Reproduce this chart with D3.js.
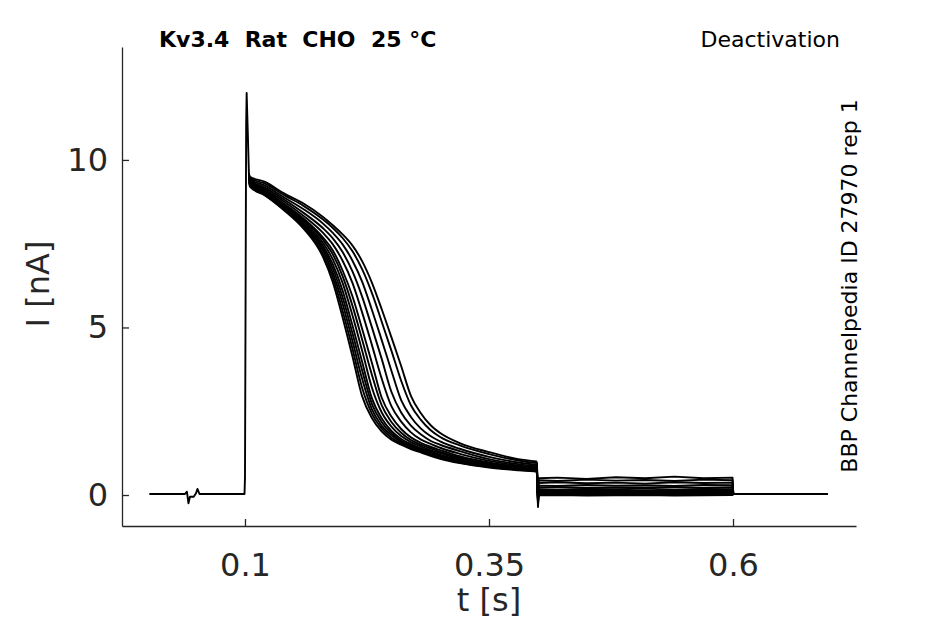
<!DOCTYPE html>
<html><head><meta charset="utf-8">
<script src="https://cdn.jsdelivr.net/npm/d3@7"></script>
<style>
body{margin:0;background:#fff}
text{font-family:"DejaVu Sans",sans-serif}
</style>
</head><body>
<svg id="c" width="945" height="624"></svg>
<script>
// ---------- data ----------
const xTicks = [0.1, 0.35, 0.6];
const yTicks = [0, 5, 10];

// shared pre-pulse baseline and capacitive spike (all sweeps overlap here)
const baseT = [0.002, 0.0385, 0.0405, 0.0421, 0.0436, 0.0475, 0.0498, 0.0513, 0.0534, 0.0995, 0.1000, 0.1012, 0.1017, 0.1028, 0.1040];
const baseI = [0.03, 0.03, 0.10, -0.25, -0.05, -0.05, 0.05, 0.18, 0.03, 0.03, 0.5, 11.0, 12.0, 10.9, 9.6];

// inactivating phase during the pulse, one row per sweep
const decayT = [0.105, 0.12, 0.14, 0.16, 0.18, 0.19, 0.20, 0.21, 0.22, 0.23, 0.24, 0.25, 0.26, 0.27, 0.28, 0.29, 0.30, 0.32, 0.35, 0.38, 0.399];
const decay1  = [9.20, 8.95, 8.50, 7.95, 7.10, 6.35, 5.30, 4.15, 2.95, 2.30, 1.90, 1.65, 1.50, 1.37, 1.27, 1.17, 1.08, 0.95, 0.82, 0.74, 0.70];
const decay2  = [9.22, 8.96, 8.52, 7.99, 7.19, 6.49, 5.50, 4.38, 3.20, 2.43, 1.99, 1.71, 1.54, 1.40, 1.30, 1.20, 1.11, 0.97, 0.84, 0.75, 0.71];
const decay3  = [9.25, 8.98, 8.55, 8.02, 7.29, 6.62, 5.71, 4.61, 3.47, 2.56, 2.07, 1.78, 1.58, 1.44, 1.33, 1.23, 1.14, 0.99, 0.85, 0.76, 0.72];
const decay4  = [9.25, 9.00, 8.58, 8.06, 7.36, 6.76, 5.90, 4.84, 3.72, 2.72, 2.18, 1.84, 1.62, 1.48, 1.36, 1.27, 1.17, 1.02, 0.87, 0.78, 0.73];
const decay5  = [9.28, 9.02, 8.60, 8.10, 7.43, 6.88, 6.10, 5.07, 3.98, 2.89, 2.29, 1.91, 1.67, 1.52, 1.40, 1.30, 1.20, 1.05, 0.89, 0.79, 0.74];
const decay6  = [9.30, 9.04, 8.63, 8.15, 7.52, 7.03, 6.33, 5.37, 4.31, 3.21, 2.47, 2.04, 1.76, 1.58, 1.45, 1.34, 1.25, 1.08, 0.91, 0.80, 0.76];
const decay7  = [9.32, 9.07, 8.66, 8.20, 7.61, 7.18, 6.53, 5.66, 4.64, 3.59, 2.68, 2.18, 1.86, 1.64, 1.50, 1.39, 1.29, 1.12, 0.94, 0.82, 0.77];
const decay8  = [9.35, 9.10, 8.69, 8.25, 7.68, 7.30, 6.70, 5.94, 4.96, 3.95, 2.91, 2.34, 1.97, 1.72, 1.56, 1.44, 1.34, 1.16, 0.97, 0.85, 0.79];
const decay9  = [9.38, 9.13, 8.76, 8.33, 7.82, 7.48, 6.99, 6.34, 5.45, 4.48, 3.48, 2.65, 2.19, 1.87, 1.66, 1.53, 1.41, 1.23, 1.02, 0.88, 0.82];
const decay10 = [9.40, 9.18, 8.82, 8.42, 7.96, 7.66, 7.25, 6.68, 5.92, 5.01, 4.07, 3.08, 2.46, 2.07, 1.81, 1.62, 1.50, 1.31, 1.07, 0.92, 0.86];
const decay11 = [9.42, 9.24, 8.88, 8.53, 8.10, 7.82, 7.48, 7.00, 6.37, 5.53, 4.63, 3.71, 2.83, 2.33, 1.99, 1.76, 1.60, 1.38, 1.14, 0.97, 0.90];
const decay12 = [9.45, 9.30, 8.95, 8.63, 8.22, 7.97, 7.67, 7.28, 6.74, 6.03, 5.18, 4.31, 3.41, 2.68, 2.25, 1.94, 1.73, 1.48, 1.22, 1.03, 0.95];
const decay13 = [9.50, 9.35, 9.00, 8.70, 8.30, 8.05, 7.78, 7.45, 6.98, 6.34, 5.55, 4.71, 3.85, 2.96, 2.45, 2.09, 1.85, 1.55, 1.28, 1.07, 1.00];

// transient at the step to the tail potential
const stepT = 0.4002;
const stepI = [-0.36, -0.30, -0.25, -0.20, -0.18, -0.15, -0.12, -0.10, -0.08, -0.05, -0.03, 0.00, 0.05];

// tail currents 0.4 - 0.6 s
const tailT = [0.4008, 0.42, 0.45, 0.48, 0.51, 0.54, 0.57, 0.5995];
const tail1  = [-0.01, 0.00, -0.02, -0.01, 0.00, -0.02, -0.01, 0.00];
const tail2  = [0.01, 0.02, 0.00, 0.01, 0.02, 0.00, 0.02, 0.01];
const tail3  = [0.03, 0.04, 0.02, 0.04, 0.03, 0.04, 0.02, 0.03];
const tail4  = [0.05, 0.06, 0.05, 0.04, 0.06, 0.05, 0.06, 0.05];
const tail5  = [0.07, 0.08, 0.06, 0.08, 0.07, 0.09, 0.07, 0.08];
const tail6  = [0.10, 0.09, 0.11, 0.10, 0.12, 0.10, 0.11, 0.10];
const tail7  = [0.13, 0.14, 0.12, 0.14, 0.13, 0.15, 0.13, 0.14];
const tail8  = [0.17, 0.16, 0.18, 0.17, 0.19, 0.16, 0.18, 0.17];
const tail9  = [0.22, 0.24, 0.21, 0.23, 0.22, 0.24, 0.21, 0.23];
const tail10 = [0.28, 0.27, 0.30, 0.28, 0.29, 0.27, 0.30, 0.29];
const tail11 = [0.36, 0.38, 0.35, 0.37, 0.34, 0.38, 0.36, 0.37];
const tail12 = [0.44, 0.42, 0.46, 0.43, 0.45, 0.42, 0.46, 0.44];
const tail13 = [0.50, 0.52, 0.48, 0.53, 0.50, 0.55, 0.50, 0.52];

// after the tail step, back to holding
const endT = [0.6003, 0.697];
const endI = [0.03, 0.03];

const decays = [decay1, decay2, decay3, decay4, decay5, decay6, decay7, decay8, decay9, decay10, decay11, decay12, decay13];
const tails = [tail1, tail2, tail3, tail4, tail5, tail6, tail7, tail8, tail9, tail10, tail11, tail12, tail13];

// ---------- chart ----------
const svg = d3.select("#c");
const x = d3.scaleLinear().domain([-0.026, 0.726]).range([122, 856]);
const y = d3.scaleLinear().domain([-0.925, 13.37]).range([526, 47]);
const axisColor = "#262626";

const lineLin = d3.line().x(d => x(d[0])).y(d => y(d[1]));
const lineSmooth = d3.line().x(d => x(d[0])).y(d => y(d[1])).curve(d3.curveMonotoneX);

const g = svg.append("g").attr("fill", "none").attr("stroke", "#000").attr("stroke-width", 1.9).attr("stroke-linejoin", "round");

decays.forEach((dv, k) => {
  const lastBase = [baseT[baseT.length - 1], baseI[baseI.length - 1]];
  const dPts = [lastBase].concat(decayT.map((t, i) => [t, dv[i]]));
  g.append("path").attr("d", lineSmooth(dPts));
  const tv = tails[k];
  const tPts = [[decayT[decayT.length - 1], dv[dv.length - 1]], [stepT, stepI[k]]]
    .concat(tailT.map((t, i) => [t, tv[i]]))
    .concat(endT.map((t, i) => [t, endI[i]]));
  g.append("path").attr("d", lineLin(tPts));
});
g.append("path").attr("d", lineLin(baseT.map((t, i) => [t, baseI[i]])));

// axes
const xAxis = d3.axisBottom(x).tickValues(xTicks).tickSizeInner(-7).tickSizeOuter(0).tickPadding(27).tickFormat(d => String(d));
const yAxis = d3.axisLeft(y).tickValues(yTicks).tickSizeInner(-7).tickSizeOuter(0).tickPadding(14).tickFormat(d => String(d));

const gx = svg.append("g").attr("transform", "translate(0,526)").call(xAxis);
const gy = svg.append("g").attr("transform", "translate(122,0)").call(yAxis);
[gx, gy].forEach(a => {
  a.selectAll("path,line").attr("stroke", axisColor).attr("stroke-width", 1.3);
  a.selectAll("text").attr("fill", axisColor).style("font-size", "32px").style("font-family", "DejaVu Sans");
});

// labels
svg.append("text").attr("x", 489).attr("y", 611).attr("text-anchor", "middle")
  .attr("fill", axisColor).style("font-size", "32px").text("t [s]");
svg.append("text").attr("transform", "translate(49,284) rotate(-90)").attr("text-anchor", "middle")
  .attr("fill", axisColor).style("font-size", "32px").text("I [nA]");

svg.append("text").attr("x", 159).attr("y", 47).style("font-size", "22px").style("font-weight", "bold")
  .attr("fill", "#000").attr("xml:space", "preserve").style("white-space", "pre").text("Kv3.4  Rat  CHO  25 °C");
svg.append("text").attr("x", 840).attr("y", 47).attr("text-anchor", "end").style("font-size", "22px")
  .attr("fill", "#000").text("Deactivation");
svg.append("text").attr("transform", "translate(857,286) rotate(-90)").attr("text-anchor", "middle")
  .style("font-size", "22px").attr("fill", "#000").text("BBP Channelpedia ID 27970 rep 1");
</script>
</body></html>
